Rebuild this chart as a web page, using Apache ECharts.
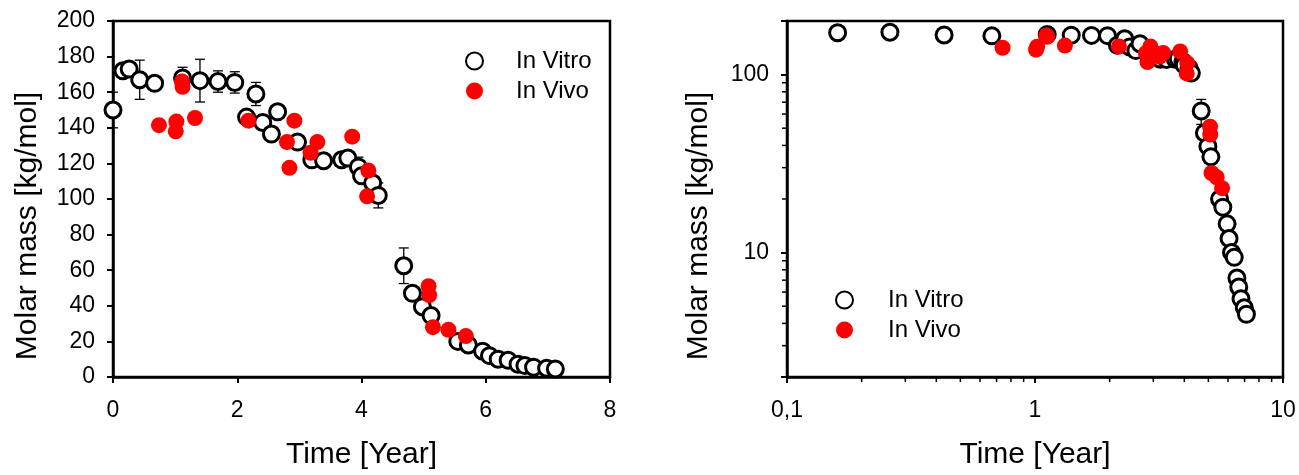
<!DOCTYPE html>
<html><head><meta charset="utf-8">
<script src="https://cdn.jsdelivr.net/npm/echarts@6/dist/echarts.min.js"></script>
<style>html,body{margin:0;padding:0;background:#fff}#c{width:1299px;height:475px}</style>
</head><body><div id="c"></div>
<script>
// ---- data ----
const vitroTime = [0.0, 0.16, 0.26, 0.43, 0.67, 1.12, 1.40, 1.69, 1.96, 2.15, 2.30, 2.41, 2.55, 2.65, 2.97, 3.20, 3.39, 3.68, 3.78, 3.95, 4.00, 4.18, 4.27, 4.68, 4.82, 4.98, 5.12, 5.55, 5.72, 5.95, 6.06, 6.20, 6.36, 6.52, 6.63, 6.77, 6.98, 7.12];
const vitroMass = [150, 172, 173, 167, 165, 168, 166.5, 166, 165.5, 146, 159, 143, 136.5, 149, 132, 122, 121.5, 122, 123, 118, 113, 109, 102, 62.5, 47, 39.5, 34.5, 20, 18, 14.5, 12, 10, 9.4, 7.2, 6.4, 5.5, 4.9, 4.5];
const vitroErr  = [10, 2, 2, 11, 2, 6, 12, 6, 6, 2, 6.5, 2, 2, 2, 2, 2, 2, 2, 3, 5.5, 3, 4, 7, 10, 2, 2, 2, 1, 1, 1, 1, 0.5, 0.5, 0.4, 0.4, 0.3, 0.3, 0.3];
const vivoTime = [0.74, 1.02, 1.01, 1.11, 1.12, 1.32, 2.18, 2.80, 2.84, 2.92, 3.18, 3.29, 3.85, 4.09, 4.11, 5.08, 5.09, 5.15, 5.40, 5.68];
const vivoMass = [141.5, 143.5, 138, 166, 163, 145.5, 144, 132, 117.5, 144, 126, 132, 135, 101.5, 116, 51, 46, 28, 26.5, 23];
const seriesNames = ['In Vitro', 'In Vivo'];
const linXTicks = [0, 8, 2];      // min, max, interval
const linYTicks = [0, 200, 20];
const logXRange = [0.1, 10];
const logYRange = [2, 200];
const logXMinor = [0.2, 0.3, 0.4, 0.5, 0.6, 0.7, 0.8, 0.9, 2, 3, 4, 5, 6, 7, 8, 9];
const logYMinor = [3, 4, 5, 6, 7, 8, 9, 20, 30, 40, 50, 60, 70, 80, 90];
const logXLabels = {'0.1': '0,1', '1': '1', '10': '10'};
const logYLabels = {'10': '10', '100': '100'};
const xTitle = 'Time [Year]';
const yTitle = 'Molar mass [kg/mol]';

// ---- build ----
const FONT = "'Liberation Sans', Arial, sans-serif";
const vitro = vitroTime.map((t, i) => [t, vitroMass[i], vitroErr[i]]);
const vivo = vivoTime.map((t, i) => [t, vivoMass[i]]);
const vitroLog = vitro.filter(d => d[0] > 0);

function errRender(params, api) {
  const x = api.value(0), y = api.value(1), e = api.value(2);
  const top = api.coord([x, y + e]), bot = api.coord([x, y - e]);
  const hw = 5, st = {stroke: '#000', lineWidth: 1.3};
  return {type: 'group', children: [
    {type: 'line', shape: {x1: top[0], y1: top[1], x2: bot[0], y2: bot[1]}, style: st},
    {type: 'line', shape: {x1: top[0] - hw, y1: top[1], x2: top[0] + hw, y2: top[1]}, style: st},
    {type: 'line', shape: {x1: bot[0] - hw, y1: bot[1], x2: bot[0] + hw, y2: bot[1]}, style: st}
  ]};
}
function tickRender(dir) {
  return function (params, api) {
    const p = api.coord([api.value(0), api.value(1)]);
    const shape = dir === 'x' ? {x1: p[0], y1: p[1], x2: p[0], y2: p[1] + 5}
                              : {x1: p[0] - 5, y1: p[1], x2: p[0], y2: p[1]};
    return {type: 'line', shape: shape, style: {stroke: '#000', lineWidth: 1.5}};
  };
}
function near(v, k) { return Math.abs(v - k) < 1e-6 * k; }

const axisCommon = {
  axisLine: {show: true, onZero: false, lineStyle: {color: '#000', width: 2.5}},
  axisTick: {show: true, inside: false, length: 6, lineStyle: {color: '#000', width: 2}},
  splitLine: {show: false},
  nameTextStyle: {fontFamily: FONT, fontSize: 30, color: '#000'},
};
const yNameStyle = {fontFamily: FONT, fontSize: 30, color: '#000', padding: [0, 54, 0, 0]};
const labelCommon = {fontFamily: FONT, fontSize: 23, color: '#000', margin: 18};
const xLabelMargin = 22;

const circleStyle = {color: '#fff', borderColor: '#000', borderWidth: 3, opacity: 1};
const redStyle = {color: '#ff0000', opacity: 1};

const option = {
  animation: false,
  backgroundColor: '#fff',
  grid: [
    {left: 113, top: 21, width: 497, height: 358, show: true, borderColor: '#000', borderWidth: 2.5, backgroundColor: 'transparent'},
    {left: 787, top: 21, width: 496, height: 357, show: true, borderColor: '#000', borderWidth: 2.5, backgroundColor: 'transparent'}
  ],
  xAxis: [
    Object.assign({}, axisCommon, {gridIndex: 0, type: 'value', min: linXTicks[0], max: linXTicks[1], interval: linXTicks[2],
      name: xTitle, nameLocation: 'middle', nameGap: 63,
      axisLabel: Object.assign({}, labelCommon, {margin: xLabelMargin})}),
    Object.assign({}, axisCommon, {gridIndex: 1, type: 'log', logBase: 10, min: logXRange[0], max: logXRange[1],
      name: xTitle, nameLocation: 'middle', nameGap: 63,
      axisLabel: Object.assign({}, labelCommon, {margin: xLabelMargin, showMinLabel: true, showMaxLabel: true, formatter: v => {
        for (const k in logXLabels) if (near(v, +k)) return logXLabels[k]; return ''; }})})
  ],
  yAxis: [
    Object.assign({}, axisCommon, {gridIndex: 0, type: 'value', min: linYTicks[0], max: linYTicks[1], interval: linYTicks[2],
      name: yTitle, nameLocation: 'middle', nameGap: 70, nameTextStyle: yNameStyle,
      axisLabel: Object.assign({}, labelCommon)}),
    Object.assign({}, axisCommon, {gridIndex: 1, type: 'log', logBase: 10, min: logYRange[0], max: logYRange[1],
      name: yTitle, nameLocation: 'middle', nameGap: 73, nameTextStyle: yNameStyle,
      axisLabel: Object.assign({}, labelCommon, {formatter: v => {
        for (const k in logYLabels) if (near(v, +k)) return logYLabels[k]; return ''; }})})
  ],
  legend: [
    {orient: 'vertical', left: 460, top: 44, itemWidth: 17, itemHeight: 17, itemGap: 6,
      data: seriesNames, selectedMode: false,
      textStyle: {fontFamily: FONT, fontSize: 24, color: '#000', lineHeight: 24, padding: [0, 0, 0, 28]}},
    {orient: 'vertical', left: 830, top: 283, itemWidth: 17, itemHeight: 17, itemGap: 6,
      data: seriesNames, selectedMode: false,
      textStyle: {fontFamily: FONT, fontSize: 24, color: '#000', lineHeight: 24, padding: [0, 0, 0, 30]}}
  ],
  series: [
    {type: 'custom', xAxisIndex: 0, yAxisIndex: 0, data: vitro, renderItem: errRender, silent: true, clip: false, z: 1},
    {name: seriesNames[0], type: 'scatter', xAxisIndex: 0, yAxisIndex: 0, data: vitro.map(d => [d[0], d[1]]),
      symbol: 'circle', symbolSize: 16, itemStyle: circleStyle, z: 2},
    {name: seriesNames[1], type: 'scatter', xAxisIndex: 0, yAxisIndex: 0, data: vivo,
      symbol: 'circle', symbolSize: 16, itemStyle: redStyle, z: 3},

    {type: 'custom', xAxisIndex: 1, yAxisIndex: 1, data: vitroLog, renderItem: errRender, silent: true, clip: false, z: 1},
    {name: seriesNames[0], type: 'scatter', xAxisIndex: 1, yAxisIndex: 1, data: vitroLog.map(d => [d[0], d[1]]),
      symbol: 'circle', symbolSize: 16, itemStyle: circleStyle, z: 2},
    {name: seriesNames[1], type: 'scatter', xAxisIndex: 1, yAxisIndex: 1, data: vivo,
      symbol: 'circle', symbolSize: 16, itemStyle: redStyle, z: 3},

    {type: 'custom', xAxisIndex: 1, yAxisIndex: 1, data: logXMinor.map(v => [v, logYRange[0]]), renderItem: tickRender('x'), silent: true, clip: false, z: 5},
    {type: 'custom', xAxisIndex: 1, yAxisIndex: 1, data: logYMinor.map(v => [logXRange[0], v]), renderItem: tickRender('y'), silent: true, clip: false, z: 5}
  ]
};
const chart = echarts.init(document.getElementById('c'), null, {renderer: 'canvas'});
chart.setOption(option);
</script>
</body></html>
